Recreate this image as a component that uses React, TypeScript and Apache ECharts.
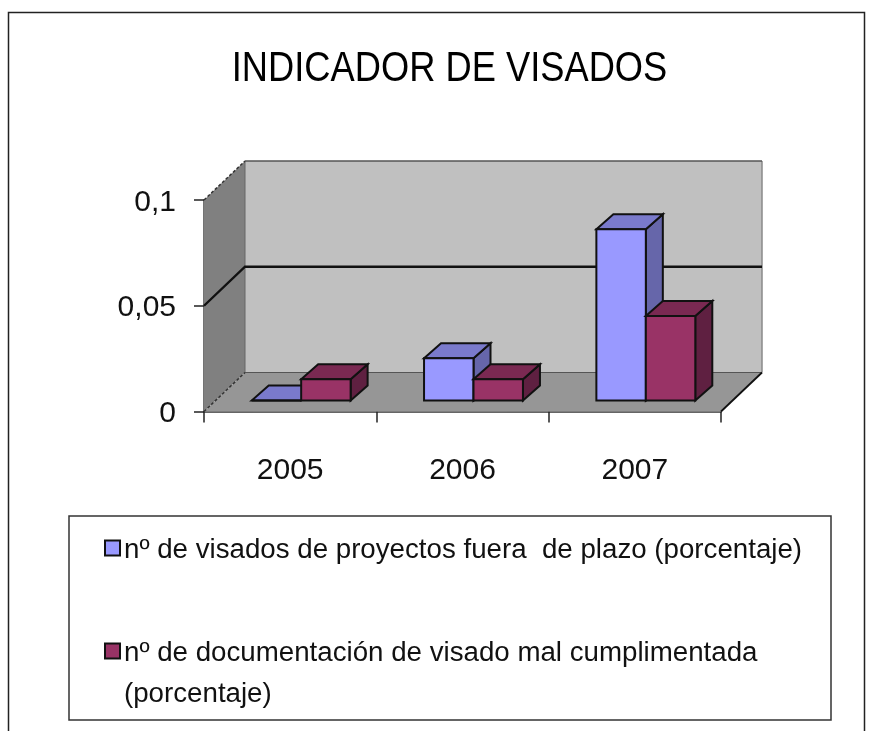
import React, { useEffect, useRef } from "react";
import * as echarts from "echarts";

const categories = ["2005", "2006", "2007"];
const fueraDePlazo = [0, 0.02, 0.081];
const malCumplimentada = [0.01, 0.01, 0.04];
const serieA = "nº de visados de proyectos fuera  de plazo (porcentaje)";
const serieB = "nº de documentación de visado mal cumplimentada";
const serieBCont = "(porcentaje)";
const titulo = "INDICADOR DE VISADOS";
const FONT = '"Liberation Sans", Arial, sans-serif';

const WALL_DX = 41;
const WALL_DY = -39;
const BAR_IN_X = 11;
const BAR_IN_Y = -11;
const BAR_DX = 17;
const BAR_DY = -15;
const BAR_RATIO = 0.287;

function poly(points: number[][], fill: string, stroke = "none", lineWidth = 0, lineDash?: number[]) {
  return {
    type: "polygon",
    shape: { points },
    style: { fill, stroke, lineWidth, lineDash },
    silent: true,
  };
}
function pline(points: number[][], stroke: string, lineWidth: number, lineDash?: number[]) {
  return {
    type: "polyline",
    shape: { points },
    style: { fill: "none", stroke, lineWidth, lineDash },
    silent: true,
  };
}

function renderWalls(_p: any, api: any) {
  const size = api.size([1, 0]);
  const band = size[0];
  const b0 = api.coord([0, 0]);
  const t0 = api.coord([0, 0.1]);
  const m0 = api.coord([0, 0.05]);
  const xL = b0[0] - band / 2;
  const xR = xL + band * categories.length;
  const y0 = b0[1];
  const y1 = t0[1];
  const ym = m0[1];
  const dx = WALL_DX;
  const dy = WALL_DY;
  return {
    type: "group",
    children: [
      poly([[xL + dx, y1 + dy], [xR + dx, y1 + dy], [xR + dx, y0 + dy], [xL + dx, y0 + dy]], "#c0c0c0"),
      poly([[xL, y1], [xL + dx, y1 + dy], [xL + dx, y0 + dy], [xL, y0]], "#808080"),
      poly([[xL, y0], [xL + dx, y0 + dy], [xR + dx, y0 + dy], [xR, y0]], "#969696"),
      pline([[xL + dx, y0 + dy], [xR + dx, y0 + dy]], "#555555", 1),
      pline([[xR + dx, y1 + dy], [xR + dx, y0 + dy]], "#8a8a8a", 1.5),
      pline([[xL + dx, y1 + dy], [xR + dx, y1 + dy]], "#555555", 1.5),
      pline([[xL + dx, y1 + dy], [xL + dx, y0 + dy]], "#666666", 1),
      pline([[xL, ym], [xL + dx, ym + dy], [xR + dx, ym + dy]], "#111111", 2.4),
      pline([[xL, y1], [xL + dx, y1 + dy]], "#333333", 1.5, [3, 2]),
      pline([[xL, y0], [xL + dx, y0 + dy]], "#333333", 1.5, [3, 2]),
      pline([[xR, y0], [xR + dx, y0 + dy]], "#111111", 1.8),
    ],
  };
}

function makeBar(offset: number, front: string, top: string, side: string) {
  return (_p: any, api: any) => {
    const band = api.size([1, 0])[0];
    const w = band * BAR_RATIO;
    const cat = api.value(0);
    const base = api.coord([cat, 0]);
    const head = api.coord([cat, api.value(1)]);
    const x0 = base[0] + BAR_IN_X + offset * w;
    const x1 = x0 + w;
    const yb = base[1] + BAR_IN_Y;
    const yt = head[1] + BAR_IN_Y;
    const ln = "#111111";
    return {
      type: "group",
      children: [
        poly([[x1, yb], [x1 + BAR_DX, yb + BAR_DY], [x1 + BAR_DX, yt + BAR_DY], [x1, yt]], side, ln, 2),
        poly([[x0, yt], [x1, yt], [x1 + BAR_DX, yt + BAR_DY], [x0 + BAR_DX, yt + BAR_DY]], top, ln, 2),
        poly([[x0, yb], [x1, yb], [x1, yt], [x0, yt]], front, ln, 2),
      ],
    };
  };
}

export default function App() {
  const ref = useRef<HTMLDivElement>(null);
  useEffect(() => {
    document.body.style.margin = "0";
    const chart = echarts.init(ref.current!, undefined, { renderer: "svg" });
    const toData = (arr: number[]) => arr.map((v, i) => [i, v]);
    chart.setOption({
      animation: false,
      backgroundColor: "#ffffff",
      grid: { left: 204, top: 200, width: 517, height: 211.5 },
      xAxis: {
        type: "category",
        data: categories,
        axisLine: { show: true, lineStyle: { color: "#333333", width: 1.5 } },
        axisTick: { show: true, length: 11, alignWithLabel: false, lineStyle: { color: "#222222", width: 1.5 } },
        axisLabel: { fontFamily: FONT, fontSize: 30, color: "#111111", margin: 42 },
        splitLine: { show: false },
      },
      yAxis: {
        type: "value",
        min: 0,
        max: 0.1,
        interval: 0.05,
        axisLine: { show: true, lineStyle: { color: "#444444", width: 1.5 } },
        axisTick: { show: true, length: 10, lineStyle: { color: "#222222", width: 1.5 } },
        axisLabel: {
          fontFamily: FONT,
          fontSize: 30,
          color: "#111111",
          margin: 28,
          formatter: (v: number) => String(+v.toFixed(2)).replace(".", ","),
        },
        splitLine: { show: false },
      },
      legend: {
        show: true,
        orient: "vertical",
        left: 104,
        top: 534,
        padding: 0,
        itemWidth: 15,
        itemHeight: 15,
        itemGap: 75,
        selectedMode: false,
        textStyle: { fontFamily: FONT, fontSize: 27.7, color: "#111111", padding: [0, 0, 0, -1] },
        data: [
          { name: serieA, icon: "rect", itemStyle: { color: "#9999ff", borderColor: "#111111", borderWidth: 2 } },
          { name: serieB, icon: "rect", itemStyle: { color: "#993366", borderColor: "#111111", borderWidth: 2 } },
        ],
      },
      graphic: [
        {
          type: "text",
          x: 449.5,
          y: 66.5,
          scaleY: 1.15,
          style: {
            text: titulo,
            fontFamily: FONT,
            fontSize: 36.3,
            fill: "#000000",
            align: "center",
            verticalAlign: "middle",
          },
          silent: true,
        },
        {
          type: "polyline",
          shape: { points: [[8.5, 731], [8.5, 12.5], [864.5, 12.5], [864.5, 731]] },
          style: { fill: "none", stroke: "#222222", lineWidth: 1.5 },
          silent: true,
        },
        {
          type: "rect",
          shape: { x: 69, y: 516, width: 762, height: 204 },
          style: { fill: "none", stroke: "#333333", lineWidth: 1.5 },
          silent: true,
        },
        {
          type: "text",
          x: 124,
          y: 692,
          style: { text: serieBCont, fontFamily: FONT, fontSize: 27.7, fill: "#111111", verticalAlign: "middle" },
          silent: true,
        },
      ],
      series: [
        {
          type: "custom",
          name: "paredes",
          coordinateSystem: "cartesian2d",
          renderItem: renderWalls,
          data: [[0, 0]],
          silent: true,
          z: 1,
        },
        {
          type: "custom",
          name: serieA,
          coordinateSystem: "cartesian2d",
          renderItem: makeBar(-1, "#9999ff", "#7a7acc", "#6666aa"),
          data: toData(fueraDePlazo),
          itemStyle: { color: "#9999ff" },
          silent: true,
          z: 2,
        },
        {
          type: "custom",
          name: serieB,
          coordinateSystem: "cartesian2d",
          renderItem: makeBar(0, "#993366", "#7a2952", "#5f2041"),
          data: toData(malCumplimentada),
          itemStyle: { color: "#993366" },
          silent: true,
          z: 3,
        },
      ],
    });
    return () => chart.dispose();
  }, []);
  return (
    <div
      ref={ref}
      style={{ position: "fixed", left: 0, top: 0, width: 874, height: 731, filter: "blur(0.4px)" }}
    />
  );
}
